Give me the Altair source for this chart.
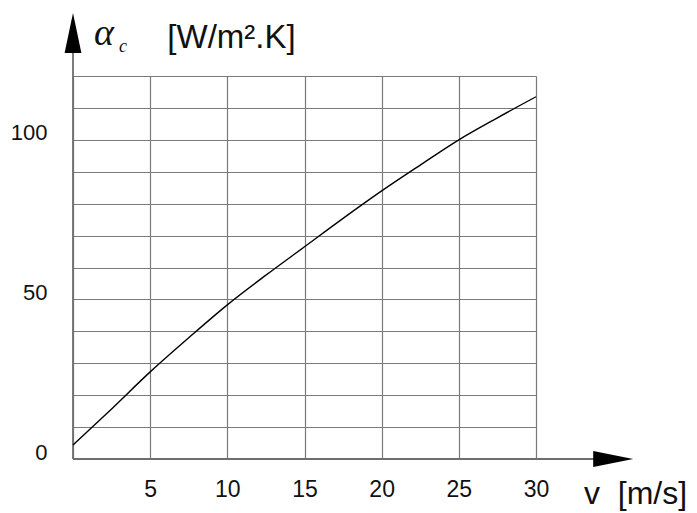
import altair as alt
import pandas as pd

# ---- data ----
v = [0, 2.5, 5, 7.5, 10, 12.5, 15, 17.5, 20, 22.5, 25, 27.5, 30]
alpha_c = [4.4, 15.7, 27.3, 38.0, 48.3, 57.6, 66.5, 75.4, 84.0, 92.1, 100.0, 106.9, 113.5]
x_ticks = [0, 5, 10, 15, 20, 25, 30]
y_ticks = list(range(0, 121, 10))
x_title = "v\u00a0\u00a0[m/s]"
y_title = "[W/m\u00b2.K]"
sym_main = ["\u03b1"]
sym_sub = ["c"]

curve = pd.DataFrame({"v": v, "a": alpha_c})
axis_lines = pd.DataFrame({"v": [0, 0], "a": [0, 0], "v2": [0, 34], "a2": [131, 0]})
arrows = pd.DataFrame({
    "v": [0, 35],
    "a": [133.5, 0],
    "shape": ["M0,-1L0.42,1L-0.42,1Z", "M1,0L-1,-0.4L-1,0.4Z"],
})

FONT = "Liberation Sans"
GRID = "#7a7a7a"

xs = alt.Scale(domain=[0, 30], nice=False, zero=False)
ys = alt.Scale(domain=[0, 120], nice=False, zero=False)

x_axis = alt.Axis(
    values=x_ticks, labelExpr="datum.value == 0 ? '' : datum.label",
    grid=True, gridColor=GRID, gridWidth=1.2, gridOpacity=1,
    domain=False, ticks=False, tickSize=0, labelFlush=False,
    labelFont=FONT, labelFontSize=23, labelColor="#111", labelPadding=19,
    title=x_title, titleFont=FONT, titleFontSize=32, titleFontWeight="normal",
    titleColor="#111", titleX=562, titleY=44, titleAlign="center",
    titleBaseline="alphabetic", titleAngle=0,
)
y_axis = alt.Axis(
    values=y_ticks, labelExpr="datum.value % 50 == 0 ? datum.label : ''",
    grid=True, gridColor=GRID, gridWidth=1.2, gridOpacity=1,
    domain=False, ticks=False, tickSize=0, labelFlush=False,
    labelFont=FONT, labelFontSize=22, labelColor="#111", labelPadding=26,
    labelAlign="right", labelBaseline="middle", labelOffset=-7,
    title=y_title, titleFont=FONT, titleFontSize=33, titleFontWeight="normal",
    titleColor="#111", titleX=158, titleY=-29, titleAlign="center",
    titleBaseline="alphabetic", titleAngle=0,
)


def X(field="v"):
    return alt.X(f"{field}:Q", scale=xs, axis=x_axis)


def Y(field="a"):
    return alt.Y(f"{field}:Q", scale=ys, axis=y_axis)


line = alt.Chart(curve).mark_line(color="black", strokeWidth=1.4, interpolate="monotone").encode(
    x=X(), y=Y()
)

ax_lines = alt.Chart(axis_lines).mark_rule(color="#6e6e6e", strokeWidth=1.8).encode(
    x=X(), y=Y(), x2="v2:Q", y2="a2:Q"
)

arrow_heads = alt.Chart(arrows).mark_point(filled=True, color="black", opacity=1, size=1600, strokeWidth=0).encode(
    x=X(), y=Y(), shape=alt.Shape("shape:N", scale=None, legend=None)
)

alpha_txt = alt.Chart(pd.DataFrame({"t": sym_main})).mark_text(
    font="Liberation Serif", fontStyle="italic", fontSize=38, color="#111",
    align="center", baseline="alphabetic"
).encode(text="t:N", x=alt.value(31), y=alt.value(-31))

sub_txt = alt.Chart(pd.DataFrame({"t": sym_sub})).mark_text(
    font="Liberation Serif", fontStyle="italic", fontSize=18, color="#111",
    align="center", baseline="alphabetic"
).encode(text="t:N", x=alt.value(50), y=alt.value(-24))

chart = alt.layer(ax_lines, line, arrow_heads, alpha_txt, sub_txt).properties(
    width=463, height=383,
    padding={"left": 65, "top": 68, "right": 150, "bottom": 54},
    autosize=alt.AutoSizeParams(type="none"),
    background="white",
).configure_view(strokeWidth=0)

chart.save("out.html", embed_options={"renderer": "svg", "actions": False})
